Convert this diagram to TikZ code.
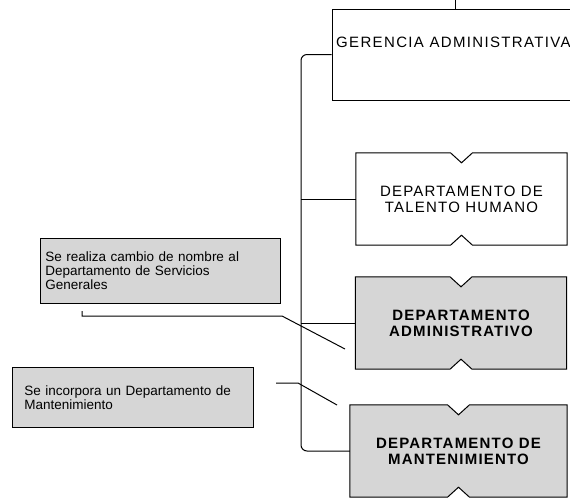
\documentclass[tikz,border=0pt]{standalone}
\usepackage{fontspec}
\setmainfont{Liberation Sans}
\usetikzlibrary{backgrounds}
\definecolor{stipple}{gray}{0.84}
\tikzset{
  conn/.style={draw=black,line width=1pt},
  deptbox/.style={draw=none,inner sep=0pt,minimum width=211pt,minimum height=92pt,align=center,font=\fontsize{15}{16}\selectfont\addfontfeatures{LetterSpace=8}},
  outline/.style={draw=black,line width=1pt},
  callout/.style={draw=black,line width=0.9pt,fill=stipple,anchor=north west,inner ysep=0pt,align=left,font=\fontsize{13.5}{14}\selectfont},
}
\newcommand\notchedbox[2]{%
  \begin{scope}[on background layer]
  \path[outline,fill=#2] (#1.north west) -- ([xshift=-11pt]#1.north) -- ([yshift=-10pt]#1.north) -- ([xshift=11pt]#1.north) -- (#1.north east) -- (#1.south east) -- ([xshift=11pt]#1.south) -- ([yshift=10pt]#1.south) -- ([xshift=-11pt]#1.south) -- (#1.south west) -- cycle;
  \end{scope}}
\begin{document}
\begin{tikzpicture}[x=1pt,y=-1pt]
\useasboundingbox (0,0) rectangle (570,499);
\clip (0,0) rectangle (570,499);
% Gerencia
\node[draw=black,line width=1pt,fill=white,minimum width=270pt,minimum height=91pt,inner sep=0pt] (ger) at (467,54.5) {};
\node[anchor=base west,inner sep=0pt,font=\fontsize{15}{16}\selectfont\addfontfeatures{LetterSpace=9}] (gertext) at (336,47) {GERENCIA ADMINISTRATIVA};
\coordinate (topend) at (455,0);
\draw[conn] (topend) -- (topend |- ger.north);
% departments
\node[deptbox] (talento) at (461.5,199) {DEPARTAMENTO DE\\TALENTO HUMANO};
\notchedbox{talento}{white}
\node[deptbox,font=\bfseries\fontsize{15}{16}\selectfont\addfontfeatures{LetterSpace=8}] (admin) at (461,323) {DEPARTAMENTO\\ADMINISTRATIVO};
\notchedbox{admin}{stipple}
\node[deptbox,minimum width=217pt,font=\bfseries\fontsize{15}{16}\selectfont\addfontfeatures{LetterSpace=8}] (mant) at (458.5,451) {DEPARTAMENTO DE\\MANTENIMIENTO};
\notchedbox{mant}{stipple}
% trunk and branches
\coordinate (tk) at (301,451);
\draw[conn,rounded corners=6pt] (ger.west) -| (tk) -- (mant.west);
\draw[conn] (talento.west -| tk) -- (talento.west);
\draw[conn] (admin.west -| tk) -- (admin.west);
% callouts
\node[callout,minimum width=240pt,text width=230pt,minimum height=65pt,inner xsep=5pt] (note1) at (40,238) {Se realiza cambio de nombre al\\Departamento de Servicios\\Generales};
\node[callout,minimum width=241pt,text width=217pt,minimum height=60pt,inner xsep=12pt] (note2) at (12,367) {Se incorpora un Departamento de\\Mantenimiento};
\coordinate (n1a) at (82,311);
\coordinate (n1b) at (282,316);
\coordinate (n1c) at (345,349);
\draw[conn] (n1a) |- (n1b) -- (n1c);
\coordinate (n2a) at (276,383);
\coordinate (n2b) at (298,383);
\coordinate (n2c) at (337,405);
\draw[conn] (n2a) -- (n2b) -- (n2c);
\end{tikzpicture}
\end{document}
